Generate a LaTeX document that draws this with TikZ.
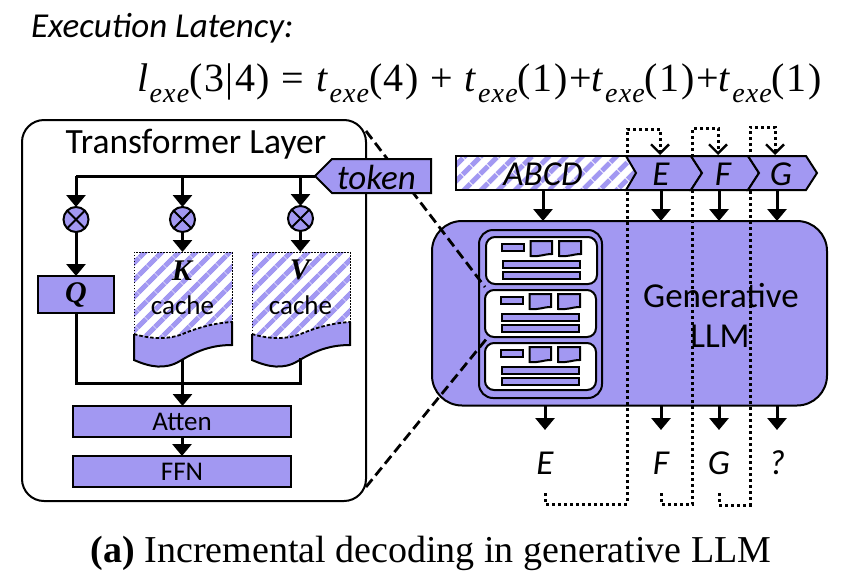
\documentclass[tikz,border=0pt]{standalone}
\usepackage{fontspec}
\setmainfont{Carlito}
\newfontfamily\serifx{Liberation Serif}
\newfontfamily\serifs[LetterSpace=4]{Liberation Serif}
\usetikzlibrary{arrows.meta,patterns.meta,calc}
\definecolor{vio}{HTML}{A298F2}
\newcommand{\subx}[1]{\raisebox{-0.28em}{\fontsize{28}{28}\selectfont\itshape #1}}
\tikzset{
  every node/.style={inner sep=0pt,outer sep=0pt},
  fillbox/.style={draw=black,line width=2pt,fill=vio,anchor=north west},
  flow/.style={line width=3pt,-{Triangle[width=19pt,length=12pt]}},
  plain/.style={line width=3pt},
  dotline/.style={line width=3pt,dash pattern=on 3pt off 3pt},
  dotarrow/.style={dotline,-{Straight Barb[length=9pt,width=18pt,line width=2.4pt]}},
  zoomline/.style={line width=2.8pt,dash pattern=on 10pt off 5pt},
  hatch/.style={pattern={Lines[angle=45,distance=13pt,line width=5.5pt]},pattern color=vio},
  thinb/.style={draw=black,line width=2pt},
  inner/.style={draw=black,line width=2pt,fill=vio},
  lab/.style={font=\fontsize{27}{27}\selectfont},
  ilab/.style={font=\fontsize{35}{35}\selectfont\itshape},
  tok/.style={font=\fontsize{35}{35}\selectfont\itshape},
  mul/.style={circle,draw=black,line width=2pt,fill=vio,minimum size=25pt},
  kv/.style={font=\fontsize{30}{30}\selectfont\serifx\bfseries\itshape},
}
\newcommand{\cachedoc}[1]{%
\begin{scope}[xshift=#1pt]
  \path[hatch] (134,252) -- (232,252) -- (232,322) .. controls (215,323) and (200,327) .. (185,333) .. controls (170,340) and (150,339) .. (134,334) -- cycle;
  \fill[vio] (134,334) .. controls (150,339) and (170,340) .. (185,333) .. controls (200,327) and (215,323) .. (232,322) -- (232,345) .. controls (210,345) and (195,352) .. (180,361) .. controls (165,370) and (150,367) .. (134,360) -- cycle;
  \draw[line width=1.8pt,dash pattern=on 3.5pt off 2pt] (134,334) .. controls (150,339) and (170,340) .. (185,333) .. controls (200,327) and (215,323) .. (232,322);
  \draw[line width=2pt,line join=miter] (232,322) -- (232,345) .. controls (210,345) and (195,352) .. (180,361) .. controls (165,370) and (150,367) .. (134,360) -- (134,334);
  \draw[line width=1pt,dash pattern=on 1.5pt off 1.5pt] (134,334) -- (134,252) -- (232,252) -- (232,322);
\end{scope}}
\newcommand{\card}[2]{%
\begin{scope}[shift={(#1,#2)}]
  \draw[thinb,fill=white,rounded corners=9pt] (486,237) rectangle (597,284);
  \draw[inner] (502,243.5) rectangle (524,250.5);
  \draw[inner] (530.5,241) -- (552,241) -- (552,254) .. controls (544,254) and (540,257) .. (530.5,256) -- cycle;
  \draw[inner] (559,241) -- (581,241) -- (581,254) .. controls (573,254) and (569,257) .. (559,256) -- cycle;
  \draw[inner] (502.5,261) rectangle (580,268);
  \draw[inner] (502.5,272) rectangle (580,279);
\end{scope}}
\begin{document}
\begin{tikzpicture}[x=1pt,y=-1pt]
\useasboundingbox (0,0) rectangle (846,584);
\fill[white] (0,0) rectangle (846,584);

% titles
\node[anchor=west,font=\fontsize{35}{35}\selectfont\itshape] (title) at (31,28) {Execution Latency:};
\node[anchor=west,font=\fontsize{40}{40}\selectfont\serifs] (formula) at (137,83) {\textit{l}\subx{exe}(3|4) = \textit{t}\subx{exe}(4) + \textit{t}\subx{exe}(1)+\textit{t}\subx{exe}(1)+\textit{t}\subx{exe}(1)};
\node[font=\fontsize{38}{38}\selectfont\serifx] (caption) at (431,553) {\textbf{(a)} Incremental decoding in generative LLM};

% Transformer layer frame
\node[draw=black,line width=2pt,rounded corners=22pt,minimum width=344pt,minimum height=381pt,anchor=north west,fill=white] (layer) at (22,120) {};
\node[font=\fontsize{35.5}{35.5}\selectfont] (layertitle) at (196,144) {Transformer Layer};

% LLM
\node[fillbox,rounded corners=30pt,minimum width=395pt,minimum height=184.5pt] (llm) at (432,221) {};
\draw[thinb,fill=vio,rounded corners=14pt] (479,230) rectangle (602,398);
\card{0}{0}
\card{-1}{53}
\card{-1}{106}
\node[font=\fontsize{35}{38}\selectfont] (llmtext) at (721,296) {Generative};
\node[font=\fontsize{35}{38}\selectfont] (llmtext2) at (720,336) {LLM};

% Zoom lines
\coordinate (z1a) at (366,131); \coordinate (z1b) at (485,287);
\coordinate (z2a) at (366,487); \coordinate (z2b) at (488,337);
\draw[zoomline] (z1a) -- (z1b);
\draw[zoomline] (z2a) -- (z2b);

% Feedback dotted
\coordinate (oE) at (545,493); \coordinate (oF) at (661,493); \coordinate (oG) at (719,493);
\coordinate (iE) at (660,155); \coordinate (iF) at (718,155); \coordinate (iG) at (775,155);
\draw[dotarrow] (oE) |- (627,504) -- (627,129) -| (iE);
\draw[dotarrow] (oF) |- (692.5,504) -- (692.5,128) -| (iF);
\draw[dotarrow] (oG) |- (750,505) -- (750,127) -| (iG);

% Sequence bar
\draw[fill=white,draw=none] (456,156) -- (626,156) -- (636,173) -- (626,190) -- (456,190) -- cycle;
\path[hatch] (456,156) -- (626,156) -- (636,173) -- (626,190) -- (456,190) -- cycle;
\draw[line width=2pt] (626,156) -- (456,156) -- (456,190) -- (626,190);
\draw[line width=2pt,fill=vio] (626,156) -- (691,156) -- (702,173) -- (691,190) -- (626,190) -- (636,173) -- cycle;
\draw[line width=2pt,fill=vio] (691,156) -- (748,156) -- (759,173) -- (748,190) -- (691,190) -- (702,173) -- cycle;
\draw[line width=2pt,fill=vio] (748,156) -- (806,156) -- (817,173) -- (806,190) -- (748,190) -- (759,173) -- cycle;
\node[ilab] (nABCD) at (543,174) {ABCD};
\node[ilab] (nE) at (661,174) {E};
\node[ilab] (nF) at (723,174) {F};
\node[ilab] (nG) at (781,174) {G};
\coordinate (bA) at (543,191); \coordinate (bE) at (661,191); \coordinate (bF) at (719,191); \coordinate (bG) at (777,191);
\coordinate (tA) at (543,221); \coordinate (tE) at (661,221); \coordinate (tF) at (719,221); \coordinate (tG) at (777,221);
\draw[flow] (bA) -- (tA);
\draw[flow] (bE) -- (tE);
\draw[flow] (bF) -- (tF);
\draw[flow] (bG) -- (tG);

% Outputs
\coordinate (uA) at (545,406); \coordinate (uE) at (661,406); \coordinate (uF) at (719,406); \coordinate (uG) at (777,406);
\coordinate (dA) at (545,430); \coordinate (dE) at (661,430); \coordinate (dF) at (719,430); \coordinate (dG) at (777,430);
\draw[flow] (uA) -- (dA);
\draw[flow] (uE) -- (dE);
\draw[flow] (uF) -- (dF);
\draw[flow] (uG) -- (dG);
\node[ilab] (outE) at (545,463) {E};
\node[ilab] (outF) at (661,463) {F};
\node[ilab] (outG) at (719,463) {G};
\node[ilab] (outQ) at (777,463) {?};

% Token
\draw[line width=2pt,fill=vio] (315,176) -- (332,159) -- (431,159) -- (431,193) -- (332,193) -- cycle;
\node[tok] (token) at (376.5,177) {token};
\coordinate (tip) at (315,176);

% Transformer internals
\node[mul] (m1) at (76,219.5) {};
\node[mul] (m2) at (182.5,219.5) {};
\node[mul] (m3) at (300.5,218.5) {};
\foreach \m in {m1,m2,m3}{
  \draw[line width=2pt] (\m.north west) -- (\m.south east);
  \draw[line width=2pt] (\m.north east) -- (\m.south west);
}
\node[fillbox,minimum width=76pt,minimum height=37pt] (q) at (38,276) {};
\node[kv] (qt) at (q.center) {Q};
\cachedoc{0}
\cachedoc{118}
\node[kv] (kt) at (182,271) {K};
\node[kv] (vt) at (300,270) {V};
\node[lab] (kc) at (182.5,305) {cache};
\node[lab] (vc) at (300.5,305) {cache};
\coordinate (ktop) at (182.5,252); \coordinate (vtop) at (300.5,252);
\coordinate (kbot) at (182.5,360); \coordinate (vbot) at (300.5,358);
\node[fillbox,minimum width=218pt,minimum height=31pt] (atten) at (73,406) {};
\node[fillbox,minimum width=218pt,minimum height=31pt] (ffn) at (73,456) {};
\node[lab] (at) at (atten.center) {Atten};
\node[lab] (ft) at (ffn.center) {FFN};

\coordinate (b1) at (76,176); \coordinate (b2) at (182.5,176); \coordinate (b3) at (300.5,176);
\draw[plain] (tip) -- (b1);
\draw[flow] (b1) -- (m1);
\draw[flow] (b2) -- (m2);
\draw[flow] (b3) -- (m3);
\draw[flow] (m1) -- (q);
\draw[flow] (m2) -- (ktop);
\draw[flow] (m3) -- (vtop);
\coordinate (join) at (182.5,383);
\draw[plain] (q.south) |- (join);
\draw[plain] (vbot) |- (join);
\draw[flow] (kbot) -- (atten.north -| kbot);
\draw[flow] (atten) -- (ffn);
\end{tikzpicture}
\end{document}
